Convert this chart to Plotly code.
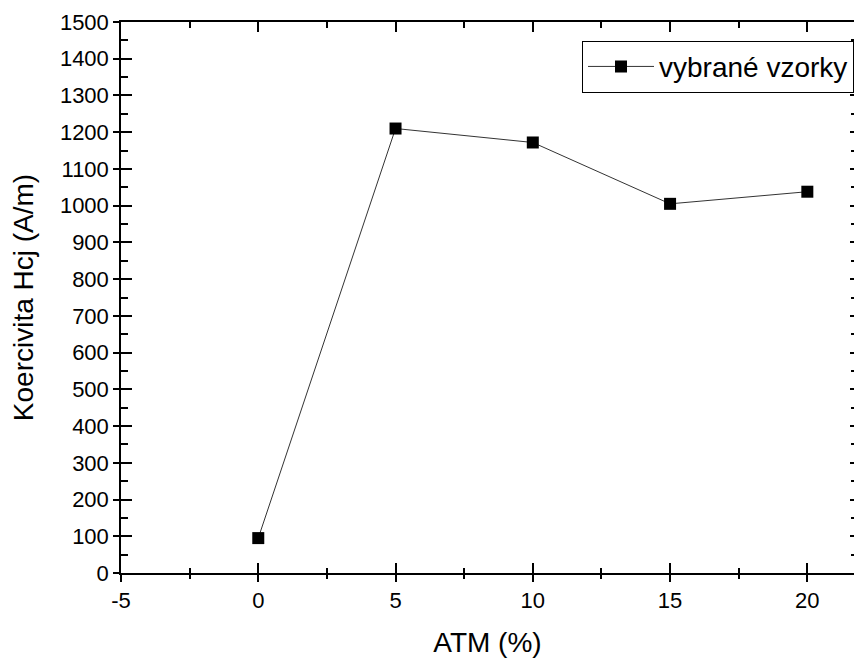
import plotly.graph_objects as go

# ATM content (%) and coercivity Hcj (A/m)
atm = [0, 5, 10, 15, 20]
hcj = [95, 1210, 1172, 1005, 1038]

x_ticks = [-5, 0, 5, 10, 15, 20]
y_ticks = list(range(0, 1501, 100))

FONT = "Liberation Sans, Arial, sans-serif"
X_RANGE = [-5, 21.7]
Y_RANGE = [0, 1500]

fig = go.Figure()

fig.add_trace(go.Scatter(
    x=atm, y=hcj, mode="lines+markers", name="vybrané vzorky",
    line=dict(color="#333333", width=1),
    marker=dict(symbol="square", size=12, color="black"),
))

# helper traces so the overlay axes (inner tick halves, top and right frames) are drawn
for xa, ya in (("x2", "y2"), ("x3", "y3")):
    fig.add_trace(go.Scatter(x=[None], y=[None], xaxis=xa, yaxis=ya,
                             showlegend=False, hoverinfo="skip"))

tick_font = dict(family=FONT, size=22, color="black")
title_font = dict(family=FONT, size=28, color="black")

fig.update_layout(
    width=854, height=664,
    margin=dict(l=121, r=0, t=22, b=91),
    paper_bgcolor="white", plot_bgcolor="white",
    font=dict(family=FONT, color="black"),
    showlegend=True,
    legend=dict(
        x=1.0, y=0.966, xanchor="right", yanchor="top",
        bordercolor="black", borderwidth=1, bgcolor="white",
        font=dict(family=FONT, size=28, color="black"),
        itemwidth=66, tracegroupgap=0,
    ),
    # bottom axis: outer half of ticks, labels, title
    xaxis=dict(
        range=X_RANGE, tickvals=x_ticks, ticktext=[str(v) for v in x_ticks],
        ticks="outside", ticklen=7, tickwidth=1.5, tickcolor="black",
        minor=dict(dtick=2.5, tick0=-5, ticks="outside", ticklen=4, tickwidth=1.5, tickcolor="black"),
        showline=True, linecolor="black", linewidth=1.5,
        showgrid=False, zeroline=False, tickfont=tick_font,
        title=dict(text="ATM (%)", font=title_font, standoff=20),
    ),
    # left axis: outer half of ticks, labels, title
    yaxis=dict(
        range=Y_RANGE, tickvals=y_ticks, ticktext=[str(v) for v in y_ticks],
        ticks="outside", ticklen=6, tickwidth=1.5, tickcolor="black",
        showline=True, linecolor="black", linewidth=1.5,
        showgrid=False, zeroline=False, tickfont=tick_font,
        title=dict(text="Koercivita Hcj (A/m)", font=title_font, standoff=18),
    ),
    # inner halves of bottom and left ticks
    xaxis2=dict(
        overlaying="x", matches="x", anchor="y2", side="bottom",
        tickvals=x_ticks, ticks="inside", ticklen=10, tickwidth=1.5, tickcolor="black",
        minor=dict(dtick=2.5, tick0=-5, ticks="inside", ticklen=5, tickwidth=1.5, tickcolor="black"),
        showticklabels=False, showline=False, showgrid=False, zeroline=False,
    ),
    yaxis2=dict(
        overlaying="y", matches="y", anchor="x2", side="left",
        tickvals=y_ticks, ticks="inside", ticklen=11, tickwidth=1.5, tickcolor="black",
        minor=dict(dtick=50, tick0=0, ticks="inside", ticklen=7, tickwidth=1.5, tickcolor="black"),
        showticklabels=False, showline=False, showgrid=False, zeroline=False,
    ),
    # top frame line and right-hand inner ticks
    xaxis3=dict(
        overlaying="x", matches="x", anchor="y3", side="top",
        tickvals=x_ticks, ticks="inside", ticklen=10, tickwidth=1.5, tickcolor="black",
        minor=dict(dtick=2.5, tick0=-5, ticks="inside", ticklen=6, tickwidth=1.5, tickcolor="black"),
        showticklabels=False, showline=True, linecolor="black", linewidth=1.5,
        showgrid=False, zeroline=False,
    ),
    yaxis3=dict(
        overlaying="y", matches="y", anchor="x3", side="right",
        tickvals=y_ticks, ticks="inside", ticklen=4, tickwidth=1.5, tickcolor="black",
        minor=dict(dtick=50, tick0=0, ticks="inside", ticklen=3, tickwidth=1.5, tickcolor="black"),
        showticklabels=False, showline=False, showgrid=False, zeroline=False,
    ),
)

fig.write_html("out.html")
